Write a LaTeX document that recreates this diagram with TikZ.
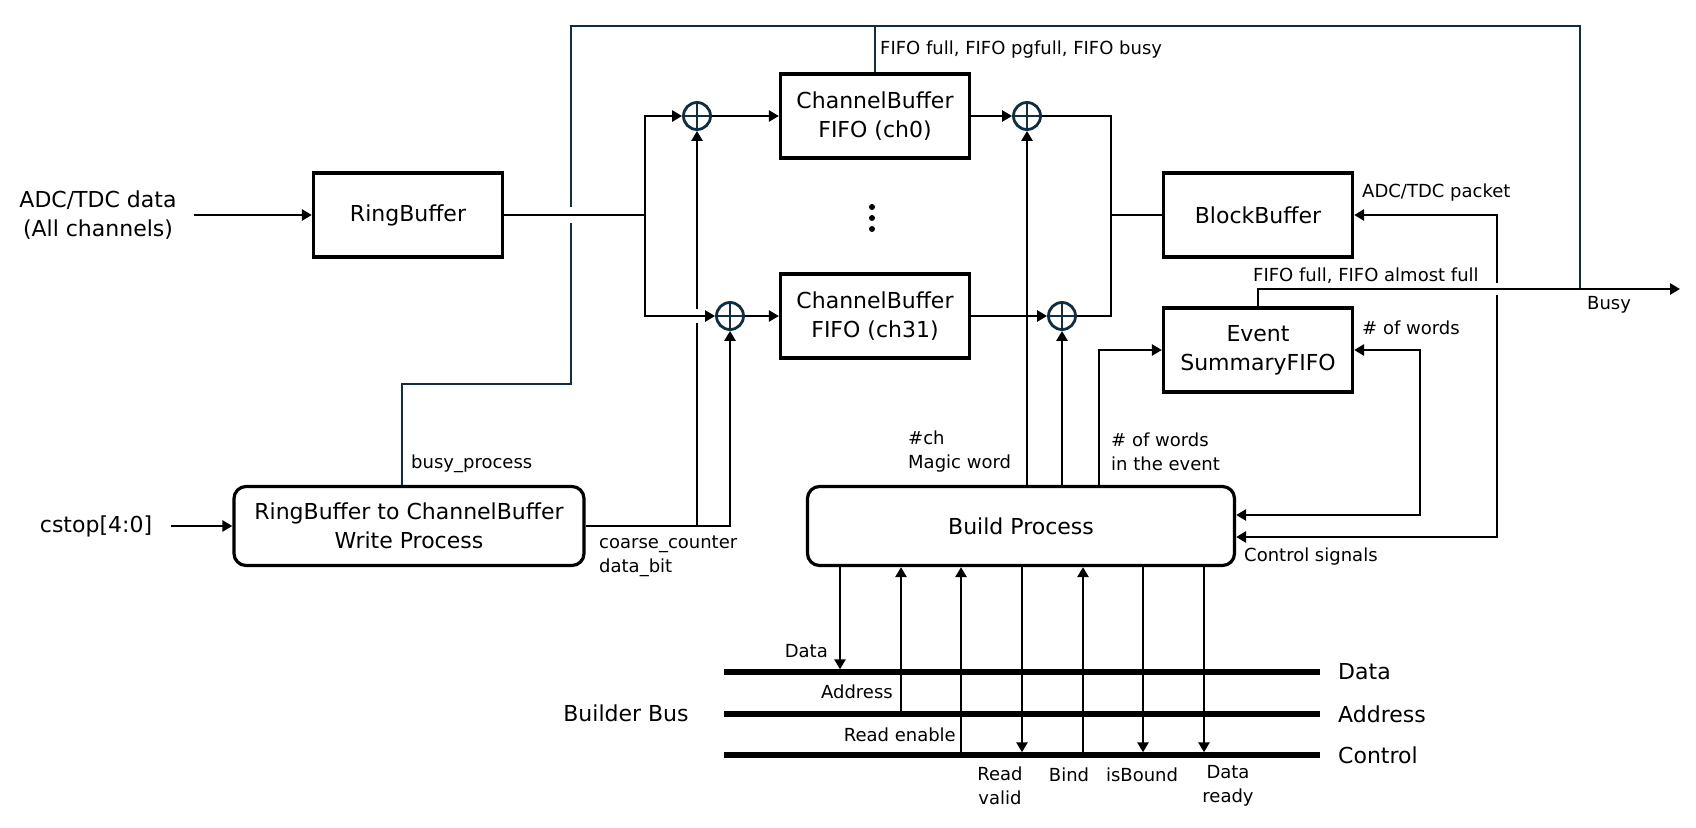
\documentclass[tikz,border=0pt]{standalone}
\usepackage{fontspec}
\setmainfont{DejaVu Sans}
\usetikzlibrary{arrows.meta}

\definecolor{busyblue}{RGB}{16,46,66}
\newcommand{\boxfont}{\fontsize{22}{29}\selectfont}
\newcommand{\lblfont}{\fontsize{18}{24}\selectfont}

\tikzset{
  blk/.style={draw, line width=3.2pt, minimum width=189pt, minimum height=84pt, align=center, font=\boxfont},
  proc/.style={draw, line width=3.2pt, rounded corners=12pt, minimum height=79pt, align=center, font=\boxfont},
  sig/.style={line width=2.8pt},
  arr/.style={sig, -{Triangle[length=10pt,width=11pt]}},
  dblarr/.style={sig, {Triangle[length=10pt,width=11pt]}-{Triangle[length=10pt,width=11pt]}},
  busyline/.style={line width=2.8pt, draw=busyblue},
  busline/.style={line width=5.5pt},
  lbl/.style={font=\lblfont, inner sep=0pt, align=left},
  txt/.style={font=\boxfont, inner sep=0pt, align=center},
  adder/.style={circle, draw=busyblue, line width=2.8pt, minimum size=27pt, inner sep=0pt,
    path picture={\draw[busyblue, line width=2.8pt] (path picture bounding box.north) -- (path picture bounding box.south)
      (path picture bounding box.west) -- (path picture bounding box.east);}},
}

\begin{document}
\begin{tikzpicture}[x=1pt, y=-1pt]
\useasboundingbox (0,0) rectangle (1696,827);

% inputs
\node[txt, inner xsep=17pt] (adc) at (98,215) {ADC/TDC data\\(All channels)};
\node[txt, inner xsep=19pt] (cstop) at (96,526) {cstop[4:0]};

% blocks
\node[blk] (rb) at (408,215) {RingBuffer};
\node[blk] (cb0) at (875,116) {ChannelBuffer\\FIFO (ch0)};
\node[blk] (cb31) at (875,316) {ChannelBuffer\\FIFO (ch31)};
\node[blk] (bb) at (1258,215) {BlockBuffer};
\node[blk] (esf) at (1258,350) {Event\\SummaryFIFO};
\node[proc, minimum width=350pt] (wp) at (409,526) {RingBuffer to ChannelBuffer\\Write Process};
\node[proc, minimum width=427pt] (bp) at (1021,526) {Build Process};

\node[adder] (m0) at (697,116) {};
\node[adder] (m31) at (730,316) {};
\node[adder] (o0) at (1027,116) {};
\node[adder] (o31) at (1062,316) {};

\fill (872,207) circle (3pt);
\fill (872,218) circle (3pt);
\fill (872,229) circle (3pt);

% busy lines
\coordinate (bjog) at (571,384);
\coordinate (bgapL) at (571,223);
\coordinate (bgapU) at (571,207);
\coordinate (btop) at (1580,26);
\coordinate (bend) at (1580,289);
\draw[busyline] ([xshift=-7pt]wp.north) |- (bjog) -- (bgapL);
\draw[busyline] (bgapU) |- (btop) -- (bend);
\draw[busyline] (cb0.north) -- (cb0.north |- btop);

% data path
\coordinate (split) at (645,215);
\coordinate (join) at (1111,215);
\draw[arr] (adc.east) -- (rb.west);
\draw[sig] (rb.east) -- (split);
\draw[arr] (split) |- (m0.west);
\draw[arr] (split) |- (m31.west);
\draw[arr] (m0.east) -- (cb0.west);
\draw[arr] (m31.east) -- (cb31.west);
\draw[arr] (cb0.east) -- (o0.west);
\draw[arr] (cb31.east) -- (o31.west);
\draw[sig] (o0.east) -| (join) |- (o31.east);
\draw[sig] (join) -- (bb.west);

% write process
\coordinate (tap) at (697,526);
\coordinate (hopA) at (697,323);
\coordinate (hopB) at (697,309);
\draw[arr] (cstop.east) -- (wp.west);
\draw[arr] (wp.east) -| (m31.south);
\draw[sig] (tap) -- (hopA);
\draw[arr] (hopB) -- (m0.south);

% build process
\coordinate (csU) at (1497,283);
\coordinate (csL) at (1497,295);
\coordinate (nw) at (1420,515);
\coordinate (busy) at (1680,289);
\draw[arr] (o0.south |- bp.north) -- (o0.south);
\draw[arr] (o31.south |- bp.north) -- (o31.south);
\draw[arr] ([xshift=78pt]bp.north) |- (esf.west);
\draw[dblarr] (esf.east) -| (nw) -- ([yshift=11pt]bp.east);
\draw[arr] (csU) |- (bb.east);
\draw[arr] (csL) |- ([yshift=-11pt]bp.east);
\draw[arr] (esf.north) |- (busy);

% builder bus
\coordinate (busD) at (724,672);
\coordinate (busA) at (724,714);
\coordinate (busC) at (724,755);
\node[txt] (bbus) at (626,713) {Builder Bus};
\node[txt, anchor=west, inner xsep=18pt] (lD) at (1320,672) {Data};
\node[txt, anchor=west, inner xsep=18pt] (lA) at (1320,714) {Address};
\node[txt, anchor=west, inner xsep=18pt] (lC) at (1320,755) {Control};
\draw[arr, shorten >=2.7pt] ([xshift=-181pt]bp.south) -- ([xshift=-181pt]bp.south |- busD);
\draw[arr] ([xshift=-120pt]bp.south |- busA) -- ([xshift=-120pt]bp.south);
\draw[arr] ([xshift=-60pt]bp.south |- busC) -- ([xshift=-60pt]bp.south);
\draw[arr, shorten >=2.7pt] ([xshift=1pt]bp.south) -- ([xshift=1pt]bp.south |- busC);
\draw[arr] ([xshift=62pt]bp.south |- busC) -- ([xshift=62pt]bp.south);
\draw[arr, shorten >=2.7pt] ([xshift=122pt]bp.south) -- ([xshift=122pt]bp.south |- busC);
\draw[arr, shorten >=2.7pt] ([xshift=183pt]bp.south) -- ([xshift=183pt]bp.south |- busC);
\draw[busline] (busD) -- (lD.west);
\draw[busline] (busA) -- (lA.west);
\draw[busline] (busC) -- (lC.west);

% labels
\node[lbl, anchor=west] (t1) at (880,50) {FIFO full, FIFO pgfull, FIFO busy};
\node[lbl, anchor=west] (t2) at (411,464) {busy\_process};
\node[lbl, anchor=west] (t3) at (599,556) {coarse\_counter\\data\_bit};
\node[lbl, anchor=west] (t4) at (908,452) {\#ch\\Magic word};
\node[lbl, anchor=west] (t5) at (1111,452) {\# of words\\in the event};
\node[lbl, anchor=west] (t6) at (1362,193) {ADC/TDC packet};
\node[lbl, anchor=west] (t7) at (1253,276) {FIFO full, FIFO almost full};
\node[lbl, anchor=west] (t8) at (1362,328) {\# of words};
\node[lbl, anchor=west] (t9) at (1587,305) {Busy};
\node[lbl, anchor=west] (t10) at (1244,557) {Control signals};
\node[lbl, anchor=east] (t11) at (828,651) {Data};
\node[lbl, anchor=east] (t12) at (893,692) {Address};
\node[lbl, anchor=east] (t13) at (956,735) {Read enable};
\node[lbl, align=center] (t14) at (1000,786) {Read\\valid};
\node[lbl] (t15) at (1069,775) {Bind};
\node[lbl] (t16) at (1142,775) {isBound};
\node[lbl, align=center] (t17) at (1228,786) {Data\\ready};
\end{tikzpicture}
\end{document}
